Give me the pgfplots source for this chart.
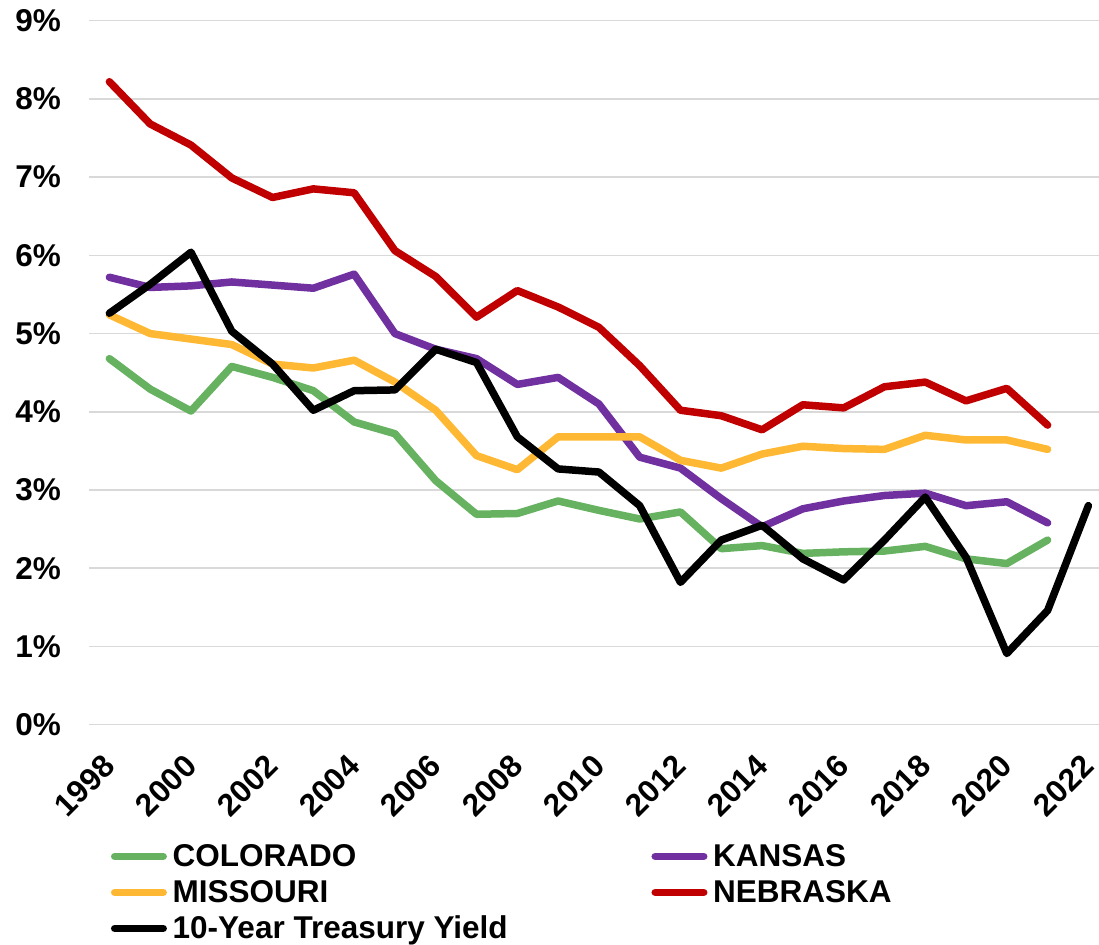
\documentclass[border=0pt]{standalone}
\usepackage{fontspec}
\setmainfont{Liberation Sans}
\usepackage{pgfplots}
\pgfplotsset{compat=1.18}
\usetikzlibrary{calc}

\definecolor{colo}{RGB}{102,178,96}
\definecolor{kans}{RGB}{112,48,160}
\definecolor{miss}{RGB}{255,184,51}
\definecolor{nebr}{RGB}{192,0,0}
\definecolor{gridgray}{RGB}{217,217,217}

\newcommand{\chartfont}{\fontsize{31.5bp}{36bp}\selectfont\bfseries}

\begin{document}
\begin{tikzpicture}
\begin{axis}[
    scale only axis,
    width=1010bp, height=704bp,
    xmin=1997.5, xmax=2022.26,
    ymin=0, ymax=9,
    axis line style={draw=none},
    major tick length=0pt,
    ymajorgrids,
    grid style={gridgray, line width=1.6bp},
    xtick={1998,2000,2002,2004,2006,2008,2010,2012,2014,2016,2018,2020,2022},
    xticklabels={1998,2000,2002,2004,2006,2008,2010,2012,2014,2016,2018,2020,2022},
    ytick={0,1,2,3,4,5,6,7,8,9},
    yticklabels={0\%,1\%,2\%,3\%,4\%,5\%,6\%,7\%,8\%,9\%},
    yticklabel style={font=\chartfont, anchor=east, inner sep=0pt, xshift=-28bp},
    xticklabel style={font=\chartfont, inner sep=0pt, yshift=-36bp, rotate=45, anchor=east},
    every axis plot/.append style={line width=7.5bp, line join=round, line cap=round},
    legend columns=2,
    legend cell align=left,
    legend image code/.code={
        \path (0bp,0bp) (56bp,0bp);
        \draw[#1] (3.75bp,0bp) -- (52.25bp,0bp);
    },
    legend style={
        draw=none, fill=none, font=\chartfont,
        at={(rel axis cs:0,0)}, anchor=north west,
        xshift=18bp, yshift=-116bp,
        inner sep=0pt, row sep=5bp,
        nodes={inner sep=2bp, text height=24bp, text depth=3bp},
        /tikz/every even column/.append style={column sep=138bp},
    },
]
\addplot[colo] coordinates {
(1998,4.68) (1999,4.29) (2000,4.01) (2001,4.58) (2002,4.44) (2003,4.27)
(2004,3.87) (2005,3.72) (2006,3.12) (2007,2.69) (2008,2.70) (2009,2.86)
(2010,2.74) (2011,2.63) (2012,2.72) (2013,2.25) (2014,2.29) (2015,2.19)
(2016,2.21) (2017,2.22) (2018,2.28) (2019,2.12) (2020,2.06) (2021,2.36)
};
\addlegendentry{COLORADO}
\addplot[kans] coordinates {
(1998,5.72) (1999,5.59) (2000,5.61) (2001,5.66) (2002,5.62) (2003,5.58)
(2004,5.76) (2005,5.00) (2006,4.80) (2007,4.68) (2008,4.35) (2009,4.44)
(2010,4.10) (2011,3.42) (2012,3.28) (2013,2.89) (2014,2.53) (2015,2.76)
(2016,2.86) (2017,2.93) (2018,2.96) (2019,2.80) (2020,2.85) (2021,2.58)
};
\addlegendentry{KANSAS}
\addplot[miss] coordinates {
(1998,5.24) (1999,5.00) (2000,4.93) (2001,4.86) (2002,4.61) (2003,4.56)
(2004,4.66) (2005,4.38) (2006,4.02) (2007,3.44) (2008,3.26) (2009,3.68)
(2010,3.68) (2011,3.68) (2012,3.38) (2013,3.28) (2014,3.46) (2015,3.56)
(2016,3.53) (2017,3.52) (2018,3.70) (2019,3.64) (2020,3.64) (2021,3.52)
};
\addlegendentry{MISSOURI}
\addplot[nebr] coordinates {
(1998,8.22) (1999,7.68) (2000,7.41) (2001,6.99) (2002,6.74) (2003,6.85)
(2004,6.80) (2005,6.06) (2006,5.73) (2007,5.21) (2008,5.55) (2009,5.34)
(2010,5.08) (2011,4.59) (2012,4.02) (2013,3.95) (2014,3.77) (2015,4.09)
(2016,4.05) (2017,4.32) (2018,4.38) (2019,4.14) (2020,4.30) (2021,3.83)
};
\addlegendentry{NEBRASKA}
\addplot[black] coordinates {
(1998,5.26) (1999,5.63) (2000,6.04) (2001,5.03) (2002,4.61) (2003,4.02)
(2004,4.27) (2005,4.28) (2006,4.80) (2007,4.63) (2008,3.68) (2009,3.27)
(2010,3.23) (2011,2.80) (2012,1.82) (2013,2.36) (2014,2.55) (2015,2.12)
(2016,1.85) (2017,2.36) (2018,2.91) (2019,2.14) (2020,0.91) (2021,1.46)
(2022,2.80)
};
\addlegendentry{10-Year Treasury Yield}
\coordinate (bl) at (rel axis cs:0,0);
\coordinate (tr) at (rel axis cs:1,1);
\end{axis}
\pgfresetboundingbox
\path ($(bl)+(-89bp,-219.5bp)$) rectangle ($(tr)+(0bp,20.7bp)$);
\end{tikzpicture}
\end{document}
